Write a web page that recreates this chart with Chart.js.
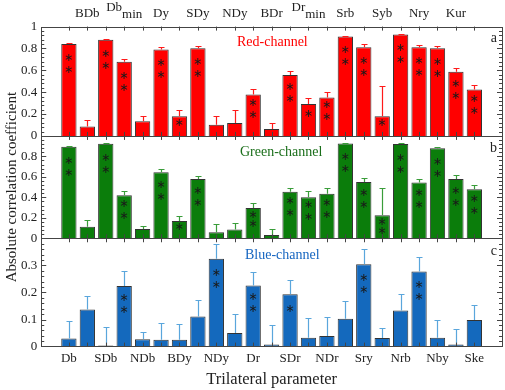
<!DOCTYPE html>
<html>
<head>
<meta charset="utf-8">
<script src="https://cdn.jsdelivr.net/npm/chart.js@4.4.1/dist/chart.umd.min.js"></script>
<style>
  html, body { margin: 0; padding: 0; background: #fff; }
  #wrap { width: 505px; height: 390px; }
</style>
</head>
<body>
<div id="wrap"><canvas id="chart"></canvas></div>
<script>
// tick labels: bottom axis at odd positions, top axis at even positions ("|" marks a subscript)
var bottomLabels = ['Db', 'SDb', 'NDb', 'BDy', 'NDy', 'Dr', 'SDr', 'NDr', 'Sry', 'Nrb', 'Nby', 'Ske'];
var topLabels = ['BDb', 'Db|min', 'Dy', 'SDy', 'NDy', 'BDr', 'Dr|min', 'Srb', 'Syb', 'Nry', 'Kur'];

// a: red channel
var redValues = [0.84, 0.086, 0.879, 0.679, 0.134, 0.791, 0.18, 0.801, 0.103, 0.118, 0.379, 0.063, 0.557, 0.292, 0.351, 0.909, 0.812, 0.18, 0.928, 0.812, 0.801, 0.587, 0.425];
var redUpper = [0.849, 0.15, 0.888, 0.706, 0.18, 0.812, 0.24, 0.818, 0.178, 0.236, 0.425, 0.121, 0.598, 0.343, 0.4, 0.918, 0.84, 0.455, 0.936, 0.832, 0.822, 0.618, 0.465];
var redStars = [2, 0, 2, 2, 0, 2, 1, 2, 0, 0, 2, 0, 2, 1, 2, 2, 2, 1, 2, 2, 2, 2, 2];

// b: green channel
var greenValues = [0.894, 0.113, 0.923, 0.42, 0.09, 0.644, 0.17, 0.58, 0.06, 0.085, 0.295, 0.032, 0.455, 0.40, 0.435, 0.927, 0.55, 0.225, 0.92, 0.546, 0.88, 0.58, 0.478];
var greenUpper = [0.90, 0.18, 0.93, 0.46, 0.12, 0.673, 0.22, 0.61, 0.14, 0.15, 0.345, 0.09, 0.49, 0.46, 0.49, 0.933, 0.585, 0.49, 0.927, 0.575, 0.89, 0.62, 0.525];
var greenStars = [2, 0, 2, 2, 0, 2, 1, 2, 0, 0, 2, 0, 2, 2, 2, 2, 2, 2, 2, 2, 2, 2, 2];

// c: blue channel
var blueValues = [0.03, 0.137, 0.004, 0.224, 0.027, 0.025, 0.025, 0.111, 0.324, 0.05, 0.226, 0.008, 0.193, 0.033, 0.039, 0.103, 0.304, 0.032, 0.133, 0.277, 0.033, 0.008, 0.098];
var blueUpper = [0.094, 0.187, 0.072, 0.278, 0.054, 0.087, 0.085, 0.171, 0.378, 0.12, 0.274, 0.08, 0.245, 0.104, 0.11, 0.168, 0.361, 0.069, 0.196, 0.33, 0.098, 0.066, 0.155];
var blueStars = [0, 0, 0, 2, 0, 0, 0, 0, 2, 0, 2, 0, 1, 0, 0, 0, 2, 0, 0, 2, 0, 0, 0];

var serif = "'Liberation Serif', 'DejaVu Serif', serif";

var panels = [
  { axis: 'yR', values: redValues, upper: redUpper, stars: redStars, fill: '#ff0000', err: '#ff1a1a',
    name: 'Red-channel', nameColor: '#ff0000', nameX: 237, nameY: 16, letter: 'a', minor: 0.04 },
  { axis: 'yG', values: greenValues, upper: greenUpper, stars: greenStars, fill: '#0b7d0b', err: '#3a9d3a',
    name: 'Green-channel', nameColor: '#1a6e1a', nameX: 240, nameY: 16, letter: 'b', minor: 0.04 },
  { axis: 'yB', values: blueValues, upper: blueUpper, stars: blueStars, fill: '#1469bd', err: '#5aa6dc',
    name: 'Blue-channel', nameColor: '#1565c0', nameX: 245, nameY: 17, letter: 'c', minor: 0.02 }
];

function toPoints(vals) {
  return vals.map(function (v, i) { return { x: i + 1, y: v }; });
}

function fmt(v) {
  return String(Math.round(v * 10) / 10);
}

var panelPlugin = {
  id: 'panels',
  afterDatasetsDraw: function (chart) {
    var ctx = chart.ctx;
    var area = chart.chartArea;
    var xs = chart.scales.x;
    ctx.save();
    panels.forEach(function (p) {
      var ys = chart.scales[p.axis];
      // error bars
      ctx.strokeStyle = p.err;
      ctx.lineWidth = 1.2;
      p.values.forEach(function (v, i) {
        var px = Math.round(xs.getPixelForValue(i + 1)) + 0.5;
        var y0 = ys.getPixelForValue(v);
        var y1 = Math.round(ys.getPixelForValue(p.upper[i])) + 0.5;
        ctx.beginPath();
        ctx.moveTo(px, y0);
        ctx.lineTo(px, y1);
        ctx.moveTo(px - 3, y1);
        ctx.lineTo(px + 3, y1);
        ctx.stroke();
      });
      // significance stars
      ctx.fillStyle = '#1a1a1a';
      ctx.font = "11px 'DejaVu Sans'";
      ctx.textAlign = 'center';
      ctx.textBaseline = 'middle';
      p.values.forEach(function (v, i) {
        var n = p.stars[i];
        if (!n) return;
        var px = xs.getPixelForValue(i + 1);
        var top = ys.getPixelForValue(v);
        var h = ys.getPixelForValue(0) - top;
        if (n === 1) {
          ctx.fillText('\u2217', px, top + Math.max(6, Math.min(15, h * 0.33)));
        } else {
          var a = top + Math.max(7, Math.min(14, h * 0.2));
          var b = a + Math.max(9, Math.min(12, h * 0.3));
          ctx.fillText('\u2217', px, a);
          ctx.fillText('\u2217', px, b);
        }
      });
      // frame
      ctx.strokeStyle = '#444';
      ctx.lineWidth = 1;
      ctx.strokeRect(Math.round(area.left) + 0.5, Math.round(ys.top) + 0.5,
        Math.round(area.right - area.left), Math.round(ys.bottom - ys.top));
      // x ticks, top and bottom of the panel, pointing inward
      ctx.beginPath();
      for (var k = 1; k <= 23; k++) {
        var tx = Math.round(xs.getPixelForValue(k)) + 0.5;
        ctx.moveTo(tx, ys.top);
        ctx.lineTo(tx, ys.top + 4);
        ctx.moveTo(tx, ys.bottom);
        ctx.lineTo(tx, ys.bottom - 4);
      }
      // y ticks, both sides
      var steps = Math.round(ys.max / p.minor);
      for (var j = 1; j < steps; j++) {
        var val = j * p.minor;
        var ty = Math.round(ys.getPixelForValue(val)) + 0.5;
        var len = (j % 5 === 0) ? 5 : 3;
        ctx.moveTo(area.left, ty);
        ctx.lineTo(area.left + len, ty);
        ctx.moveTo(area.right, ty);
        ctx.lineTo(area.right - len, ty);
      }
      ctx.stroke();
      // channel name and panel letter
      ctx.textAlign = 'left';
      ctx.textBaseline = 'middle';
      ctx.font = '14px ' + serif;
      ctx.fillStyle = p.nameColor;
      ctx.fillText(p.name, p.nameX, ys.top + p.nameY);
      ctx.fillStyle = '#222';
      ctx.textAlign = 'right';
      ctx.fillText(p.letter, area.right - 5, ys.top + p.nameY - 4);
    });
    // top axis labels (with subscripts)
    ctx.fillStyle = '#222';
    ctx.font = '13px ' + serif;
    ctx.textBaseline = 'alphabetic';
    topLabels.forEach(function (lab, i) {
      var px = chart.scales.x2.getPixelForValue(2 * (i + 1));
      var parts = lab.split('|');
      var base = area.top - 10;
      if (parts.length === 1) {
        ctx.textAlign = 'center';
        ctx.fillText(lab, px, base);
      } else {
        var w1 = ctx.measureText(parts[0]).width;
        var w2 = ctx.measureText(parts[1]).width;
        var left = px - (w1 + w2) / 2;
        ctx.textAlign = 'left';
        ctx.fillText(parts[0], left, base - 6);
        ctx.fillText(parts[1], left + w1, base + 1);
      }
    });
    ctx.restore();
  }
};

function yAxis(max, step, weight, hideTop, title) {
  var axis = {
    type: 'linear',
    position: 'left',
    stack: 'panels',
    stackWeight: weight,
    min: 0,
    max: max,
    grid: { display: false, drawTicks: false },
    border: { display: false },
    ticks: {
      stepSize: step,
      autoSkip: false,
      padding: 4,
      color: '#222',
      font: { family: serif, size: 13 },
      callback: function (v) {
        if (hideTop && Math.abs(v - max) < 1e-6) return '';
        return fmt(v);
      }
    }
  };
  if (title) {
    axis.title = { display: true, text: title, color: '#222', padding: { top: 1, bottom: -4 },
      font: { family: serif, size: 15 } };
  }
  return axis;
}

new Chart(document.getElementById('chart'), {
  type: 'bar',
  data: {
    datasets: panels.map(function (p) {
      return {
        label: p.name,
        data: toPoints(p.values),
        xAxisID: 'x',
        yAxisID: p.axis,
        backgroundColor: p.fill,
        borderColor: '#333',
        borderWidth: 1,
        grouped: false,
        barPercentage: 0.83,
        categoryPercentage: 1
      };
    })
  },
  options: {
    responsive: true,
    maintainAspectRatio: false,
    animation: false,
    layout: { padding: { left: 2, right: 3, top: 11, bottom: 0 } },
    plugins: { legend: { display: false }, tooltip: { enabled: false } },
    scales: {
      x: {
        type: 'linear',
        position: 'bottom',
        min: 0,
        max: 24,
        grid: { display: false, drawTicks: false },
        border: { display: false },
        ticks: {
          stepSize: 1,
          autoSkip: false,
          maxRotation: 0,
          padding: 4,
          color: '#222',
          font: { family: serif, size: 13 },
          callback: function (v) {
            return (v % 2 === 1) ? bottomLabels[(v - 1) / 2] : '';
          }
        },
        title: { display: true, text: 'Trilateral parameter', color: '#222', padding: { top: 0, bottom: 0 },
          font: { family: serif, size: 16.5 } }
      },
      x2: {
        type: 'linear',
        position: 'top',
        min: 0,
        max: 24,
        grid: { display: false, drawTicks: false },
        border: { display: false },
        ticks: {
          stepSize: 1,
          autoSkip: false,
          maxRotation: 0,
          padding: 0,
          color: 'rgba(0,0,0,0)',
          font: { family: serif, size: 13 },
          callback: function (v) {
            return (v % 2 === 0 && v > 0 && v < 24) ? topLabels[v / 2 - 1].replace('|', '') : '';
          }
        }
      },
      yB: yAxis(0.4, 0.1, 109, true, null),
      yG: yAxis(1, 0.2, 103, true, 'Absolute correlation coefficient'),
      yR: yAxis(1, 0.2, 110, false, null)
    }
  },
  plugins: [panelPlugin]
});
</script>
</body>
</html>
